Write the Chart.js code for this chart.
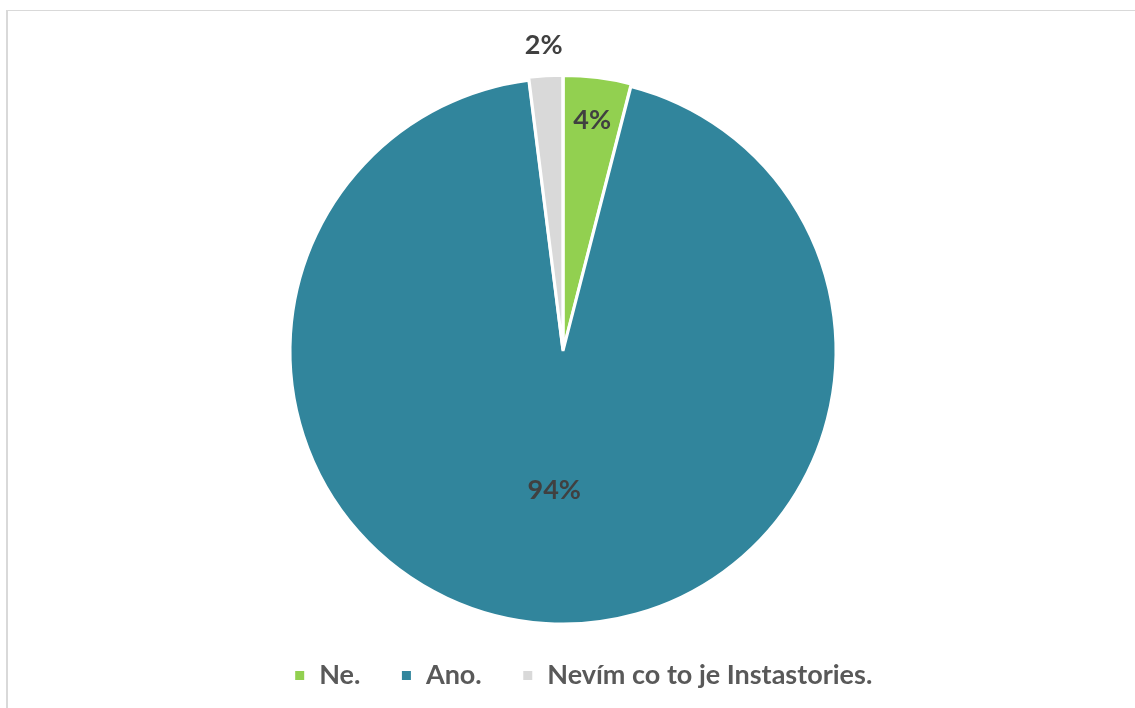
<!DOCTYPE html>
<html>
<head>
<meta charset="utf-8">
<script src="https://cdn.jsdelivr.net/npm/chart.js@4/dist/chart.umd.min.js"></script>
<style>
    html, body { margin: 0; padding: 0; background: #fff; overflow: hidden; }
    #wrap { position: relative; width: 1135px; height: 708px; }
    #frame {
        position: absolute; left: 6px; top: 10px; right: -5px; bottom: -5px;
        border-top: 1px solid #d9d9d9; border-left: 2px solid #d9d9d9;
    }
    #myChart { position: absolute; left: 0; top: 0; }
</style>
</head>
<body>
<div id="wrap">
    <div id="frame"></div>
    <canvas id="myChart" width="1135" height="708"></canvas>
</div>
<script>
var labels = ['Ne.', 'Ano.', 'Nevím co to je Instastories.'];
var values = [4, 94, 2];
var colors = ['#92D050', '#31859C', '#D9D9D9'];

// where each value label sits, as a fraction of the radius from the centre
var labelRadius = [0.83, 0.51, 1.1];

var valueLabels = {
    id: 'valueLabels',
    afterDatasetsDraw: function(chart) {
        var ctx = chart.ctx;
        var meta = chart.getDatasetMeta(0);
        ctx.save();
        ctx.font = 'bold 27px Lato';
        ctx.fillStyle = '#404040';
        ctx.textAlign = 'center';
        ctx.textBaseline = 'middle';
        meta.data.forEach(function(arc, i) {
            var p = arc.getProps(['x', 'y', 'startAngle', 'endAngle', 'outerRadius'], true);
            var mid = (p.startAngle + p.endAngle) / 2;
            var r = (arc.options.offset || 0) + p.outerRadius * labelRadius[i];
            ctx.fillText(values[i] + '%', p.x + Math.cos(mid) * r, p.y + Math.sin(mid) * r);
        });
        ctx.restore();
    }
};

// nudge the legend block under the pie
var legendShift = {
    id: 'legendShift',
    afterLayout: function(chart, args, opts) {
        var lg = chart.legend;
        lg.left += opts.x; lg.right += opts.x;
        lg.top += opts.y; lg.bottom += opts.y;
    }
};

var ctx = document.getElementById('myChart').getContext('2d');
var myChart = new Chart(ctx, {
    type: 'pie',
    data: {
        labels: labels,
        datasets: [{
            data: values,
            backgroundColor: colors,
            borderColor: '#ffffff',
            borderWidth: 3,
            offset: [6, 0, 6],
            clip: false
        }]
    },
    options: {
        responsive: false,
        animation: false,
        radius: 273,
        layout: { padding: { top: 71, bottom: 0, left: 0, right: 9 } },
        plugins: {
            legend: {
                position: 'bottom',
                labels: {
                    boxWidth: 12,
                    boxHeight: 12,
                    padding: 40,
                    color: '#595959',
                    font: { family: 'Lato', size: 27, weight: 'bold' }
                }
            },
            legendShift: { x: 20, y: -9 },
            tooltip: { enabled: false }
        }
    },
    plugins: [valueLabels, legendShift]
});
</script>
</body>
</html>
